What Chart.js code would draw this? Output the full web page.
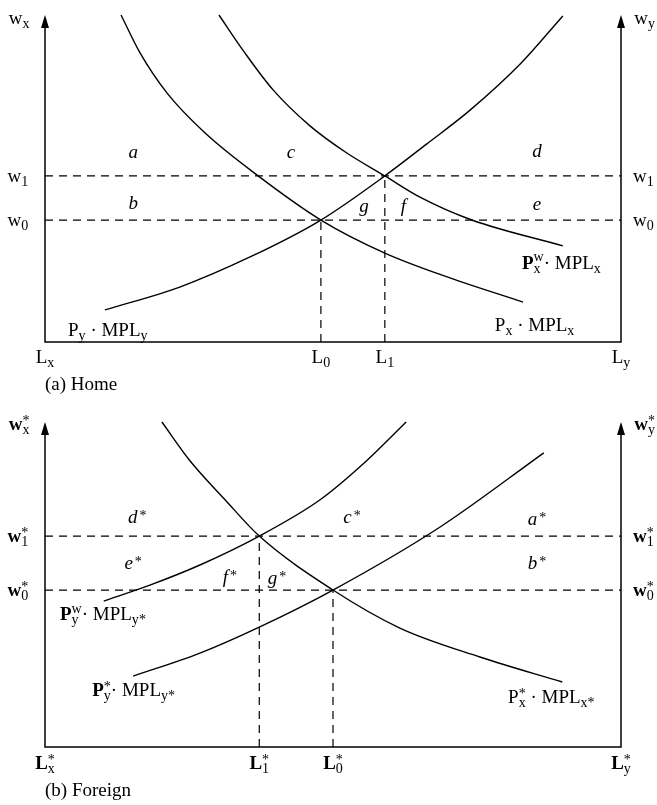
<!DOCTYPE html>
<html>
<head>
<meta charset="utf-8">
<script src="https://cdn.jsdelivr.net/npm/chart.js@4.4.1/dist/chart.umd.min.js"></script>
<style>
  body { margin: 0; background: #fff; }
  canvas { display: block; }
</style>
</head>
<body>
<canvas id="home" width="657" height="400"></canvas>
<canvas id="foreign" width="657" height="405"></canvas>
<script>
// Home: wages w0, w1 and labour allocations L0, L1
const homeWage = [37.3, 50.8];
const homeLabour = [47.9, 59.0];
// labour demand curves, [L, w] pairs
const homePxMPLx = [[13.2, 100], [16.5, 88.4], [21.2, 76.1], [27.8, 63.9], [37.0, 50.8], [47.9, 37.3],
  [59.0, 27.2], [70.3, 19.6], [83.0, 12.2]];
const homePxwMPLx = [[30.2, 100], [34.7, 88.4], [39.6, 77.1], [46.0, 66.1], [52.4, 57.8], [59.0, 50.8],
  [65.1, 44.3], [74.1, 37.3], [89.9, 29.4]];
const homePyMPLy = [[10.4, 9.8], [23.4, 16.8], [35.6, 26.0], [47.9, 37.3], [59.0, 50.8], [66.3, 60.6],
  [73.8, 70.9], [82.5, 85.0], [89.9, 99.7]];

// Foreign: wages w0*, w1* and labour allocations L0*, L1*
const forWage = [48.3, 64.9];
const forLabour = [50.0, 37.2];
const forPxMPLx = [[20.3, 100], [25.2, 88.0], [31.3, 76.0], [37.2, 64.9], [50.0, 48.3], [61.6, 36.6],
  [75.5, 27.7], [89.8, 20.0]];
const forPywMPLy = [[10.2, 44.9], [18.2, 49.8], [26.9, 56.0], [37.2, 64.9], [47.7, 76.0], [55.6, 87.7], [62.7, 100]];
const forPyMPLy = [[15.3, 21.8], [26.9, 28.9], [37.2, 36.9], [50.0, 48.3], [68.6, 67.7], [86.6, 90.5]];

const FONT = '"Liberation Serif", "DejaVu Serif", serif';
const SIZE = 19;

function segFont(size, s) {
  return (s.i ? 'italic ' : '') + (s.b ? 'bold ' : '') + size + 'px ' + FONT;
}

function scriptSize() {
  return SIZE * 0.74;
}

function segsWidth(ctx, segs) {
  let w = 0;
  for (const s of segs) {
    if (s.t !== undefined) {
      ctx.font = segFont(SIZE, s);
      w += ctx.measureText(s.t).width;
    } else {
      let sw = 0;
      if (s.sup) { ctx.font = segFont(scriptSize(), s); sw = ctx.measureText(s.sup).width; }
      if (s.sub) { ctx.font = segFont(scriptSize(), s); sw = Math.max(sw, ctx.measureText(s.sub).width); }
      w += sw + (s.dx || 0);
    }
  }
  return w;
}

// text with stacked sub/superscripts, y is the visual middle
function drawSegs(ctx, segs, x, y, align) {
  const total = segsWidth(ctx, segs);
  let cx = align === 'center' ? x - total / 2 : align === 'right' ? x - total : x;
  const base = y + SIZE * 0.3;
  ctx.textAlign = 'left';
  ctx.textBaseline = 'alphabetic';
  ctx.fillStyle = '#000';
  for (const s of segs) {
    if (s.t !== undefined) {
      ctx.font = segFont(SIZE, s);
      ctx.fillText(s.t, cx, base);
      cx += ctx.measureText(s.t).width;
    } else {
      cx += s.dx || 0;
      let w = 0;
      if (s.sup) {
        ctx.font = segFont(scriptSize(), s);
        const off = s.sup === '*' ? SIZE * (s.sub ? 0.24 : 0.16) : SIZE * 0.38;
        ctx.fillText(s.sup, cx, base - off);
        w = ctx.measureText(s.sup).width;
      }
      if (s.sub) {
        ctx.font = segFont(scriptSize(), s);
        ctx.fillText(s.sub, cx, base + SIZE * 0.22);
        w = Math.max(w, ctx.measureText(s.sub).width);
      }
      cx += w;
    }
  }
}

function toPoints(pairs) {
  return pairs.map(p => ({ x: p[0], y: p[1] }));
}

function curve(pairs) {
  return {
    data: toPoints(pairs),
    borderColor: '#000',
    borderWidth: 1.4,
    cubicInterpolationMode: 'monotone',
    pointRadius: 0,
    fill: false,
    clip: false
  };
}

function dashed(pairs) {
  return {
    data: toPoints(pairs),
    borderColor: '#000',
    borderWidth: 1.2,
    borderDash: [8, 6],
    pointRadius: 0,
    fill: false,
    clip: false
  };
}

const axesAndText = {
  id: 'axesAndText',
  afterDraw(chart, args, opts) {
    const ctx = chart.ctx;
    const a = chart.chartArea;
    const xs = chart.scales.x, ys = chart.scales.y;
    ctx.save();
    ctx.strokeStyle = '#000';
    ctx.fillStyle = '#000';
    ctx.lineWidth = 1.5;
    ctx.beginPath();
    ctx.moveTo(a.left, a.top + 10);
    ctx.lineTo(a.left, a.bottom);
    ctx.lineTo(a.right, a.bottom);
    ctx.lineTo(a.right, a.top + 10);
    ctx.stroke();
    for (const ax of [a.left, a.right]) {
      ctx.beginPath();
      ctx.moveTo(ax, a.top);
      ctx.lineTo(ax - 4, a.top + 13);
      ctx.lineTo(ax + 4, a.top + 13);
      ctx.closePath();
      ctx.fill();
    }
    for (const tag of opts.tags) {
      drawSegs(ctx, tag.segs, xs.getPixelForValue(tag.x), ys.getPixelForValue(tag.y), tag.align || 'left');
    }
    ctx.restore();
  }
};

function panel(id, padding, datasets, tags) {
  return new Chart(document.getElementById(id), {
    type: 'line',
    data: { datasets },
    options: {
      responsive: false,
      devicePixelRatio: 1,
      animation: false,
      events: [],
      layout: { padding },
      plugins: {
        legend: { display: false },
        tooltip: { enabled: false },
        axesAndText: { tags }
      },
      scales: {
        x: { type: 'linear', min: 0, max: 100, display: false },
        y: { type: 'linear', min: 0, max: 100, display: false }
      }
    },
    plugins: [axesAndText]
  });
}

const I = (t) => [{ t, i: 1 }];
const IS = (t) => [{ t, i: 1 }, { sup: '*', dx: 2 }];

const homeTags = [
  { x: -6.3, y: 99.1, segs: [{ t: 'w' }, { sub: 'x' }] },
  { x: 102.3, y: 99.1, segs: [{ t: 'w' }, { sub: 'y' }] },
  { x: -6.5, y: homeWage[1], segs: [{ t: 'w' }, { sub: '1' }] },
  { x: -6.5, y: homeWage[0], segs: [{ t: 'w' }, { sub: '0' }] },
  { x: 102.1, y: homeWage[1], segs: [{ t: 'w' }, { sub: '1' }] },
  { x: 102.1, y: homeWage[0], segs: [{ t: 'w' }, { sub: '0' }] },
  { x: 0, y: -4.6, segs: [{ t: 'L' }, { sub: 'x' }], align: 'center' },
  { x: homeLabour[0], y: -4.6, segs: [{ t: 'L' }, { sub: '0' }], align: 'center' },
  { x: homeLabour[1], y: -4.6, segs: [{ t: 'L' }, { sub: '1' }], align: 'center' },
  { x: 100, y: -4.6, segs: [{ t: 'L' }, { sub: 'y' }], align: 'center' },
  { x: 0, y: -12.9, segs: [{ t: '(a) Home' }] },
  { x: 15.3, y: 58.1, segs: I('a'), align: 'center' },
  { x: 42.7, y: 58.1, segs: I('c'), align: 'center' },
  { x: 85.4, y: 58.4, segs: I('d'), align: 'center' },
  { x: 15.3, y: 42.5, segs: I('b'), align: 'center' },
  { x: 55.4, y: 41.6, segs: I('g'), align: 'center' },
  { x: 62.2, y: 41.6, segs: I('f'), align: 'center' },
  { x: 85.4, y: 42.2, segs: I('e'), align: 'center' },
  { x: 4.0, y: 3.7, segs: [{ t: 'P' }, { sub: 'y' }, { t: ' · MPL' }, { sub: 'y' }] },
  { x: 78.1, y: 5.2, segs: [{ t: 'P' }, { sub: 'x' }, { t: ' · MPL' }, { sub: 'x' }] },
  { x: 82.8, y: 24.2, segs: [{ t: 'P', b: 1 }, { sub: 'x', sup: 'w' }, { t: '· MPL' }, { sub: 'x' }] }
];

const forTags = [
  { x: -6.3, y: 99.4, segs: [{ t: 'w', b: 1 }, { sub: 'x', sup: '*' }] },
  { x: 102.3, y: 99.4, segs: [{ t: 'w', b: 1 }, { sub: 'y', sup: '*' }] },
  { x: -6.5, y: forWage[1], segs: [{ t: 'w', b: 1 }, { sub: '1', sup: '*' }] },
  { x: -6.5, y: forWage[0], segs: [{ t: 'w', b: 1 }, { sub: '0', sup: '*' }] },
  { x: 102.1, y: forWage[1], segs: [{ t: 'w', b: 1 }, { sub: '1', sup: '*' }] },
  { x: 102.1, y: forWage[0], segs: [{ t: 'w', b: 1 }, { sub: '0', sup: '*' }] },
  { x: 0, y: -5.0, segs: [{ t: 'L', b: 1 }, { sub: 'x', sup: '*' }], align: 'center' },
  { x: forLabour[1], y: -5.0, segs: [{ t: 'L', b: 1 }, { sub: '1', sup: '*' }], align: 'center' },
  { x: forLabour[0], y: -5.0, segs: [{ t: 'L', b: 1 }, { sub: '0', sup: '*' }], align: 'center' },
  { x: 100, y: -5.0, segs: [{ t: 'L', b: 1 }, { sub: 'y', sup: '*' }], align: 'center' },
  { x: 0, y: -13.2, segs: [{ t: '(b) Foreign' }] },
  { x: 16.0, y: 70.8, segs: IS('d'), align: 'center' },
  { x: 53.3, y: 70.8, segs: IS('c'), align: 'center' },
  { x: 85.4, y: 70.2, segs: IS('a'), align: 'center' },
  { x: 15.3, y: 56.6, segs: IS('e'), align: 'center' },
  { x: 32.1, y: 52.3, segs: IS('f'), align: 'center' },
  { x: 40.3, y: 52.0, segs: IS('g'), align: 'center' },
  { x: 85.4, y: 56.6, segs: IS('b'), align: 'center' },
  { x: 2.6, y: 40.9, segs: [{ t: 'P', b: 1 }, { sub: 'y', sup: 'w' }, { t: '· MPL' }, { sub: 'y*' }] },
  { x: 8.2, y: 17.5, segs: [{ t: 'P', b: 1 }, { sub: 'y', sup: '*' }, { t: '· MPL' }, { sub: 'y*' }] },
  { x: 80.4, y: 15.4, segs: [{ t: 'P' }, { sub: 'x', sup: '*' }, { t: ' · MPL' }, { sub: 'x*' }] }
];

panel('home', { left: 45, right: 36, top: 15, bottom: 58 }, [
  curve(homePxMPLx),
  curve(homePxwMPLx),
  curve(homePyMPLy),
  dashed([[0, homeWage[0]], [100, homeWage[0]]]),
  dashed([[0, homeWage[1]], [100, homeWage[1]]]),
  dashed([[homeLabour[0], 0], [homeLabour[0], homeWage[0]]]),
  dashed([[homeLabour[1], 0], [homeLabour[1], homeWage[1]]])
], homeTags);

panel('foreign', { left: 45, right: 36, top: 22, bottom: 58 }, [
  curve(forPxMPLx),
  curve(forPywMPLy),
  curve(forPyMPLy),
  dashed([[0, forWage[0]], [100, forWage[0]]]),
  dashed([[0, forWage[1]], [100, forWage[1]]]),
  dashed([[forLabour[0], 0], [forLabour[0], forWage[0]]]),
  dashed([[forLabour[1], 0], [forLabour[1], forWage[1]]])
], forTags);
</script>
</body>
</html>
